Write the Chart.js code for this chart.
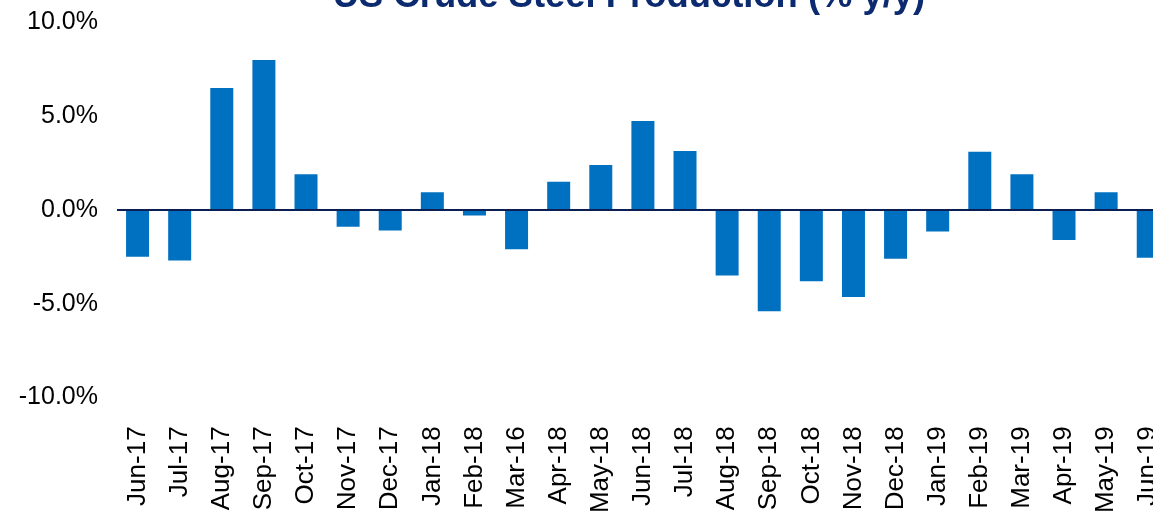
<!DOCTYPE html>
<html>
<head>
<meta charset="utf-8">
<script src="https://cdn.jsdelivr.net/npm/chart.js@4/dist/chart.umd.min.js"></script>
<style>
  html, body { margin: 0; padding: 0; background: #fff; overflow: hidden; }
  body { width: 1153px; height: 511px; position: relative; }
  #wrap { position: absolute; left: 0; top: -40px; width: 1258px; height: 620px; }
</style>
</head>
<body>
<div id="wrap"><canvas id="steel-chart"></canvas></div>
<script>
const titleText = 'US Crude Steel Production (% y/y)';

const months = [
  'Jun-17', 'Jul-17', 'Aug-17', 'Sep-17', 'Oct-17', 'Nov-17', 'Dec-17',
  'Jan-18', 'Feb-18', 'Mar-16', 'Apr-18', 'May-18', 'Jun-18', 'Jul-18',
  'Aug-18', 'Sep-18', 'Oct-18', 'Nov-18', 'Dec-18',
  'Jan-19', 'Feb-19', 'Mar-19', 'Apr-19', 'May-19', 'Jun-19'
];

// % y/y
const yoy = [
  -2.5, -2.7, 6.5, 8.0, 1.9, -0.9, -1.1,
  0.95, -0.3, -2.1, 1.5, 2.4, 4.75, 3.15,
  -3.5, -5.4, -3.8, -4.65, -2.6,
  -1.15, 3.1, 1.9, -1.6, 0.95, -2.55
];

const yTicks = [-10, -5, 0, 5, 10];

const font = 'Liberation Sans, Arial, sans-serif';

new Chart(document.getElementById('steel-chart'), {
  type: 'bar',
  data: {
    labels: months,
    datasets: [{
      data: yoy,
      backgroundColor: '#0070c0',
      borderWidth: 0,
      categoryPercentage: 1,
      barPercentage: 0.546
    }]
  },
  options: {
    responsive: true,
    maintainAspectRatio: false,
    animation: false,
    layout: { padding: 0 },
    plugins: {
      legend: { display: false },
      tooltip: { enabled: false },
      title: {
        display: true,
        text: titleText,
        color: '#0b2a6f',
        font: { family: font, size: 36.4, weight: 'bold' },
        padding: { top: 15.4, bottom: 3.4 }
      }
    },
    scales: {
      x: {
        grid: { display: false, drawTicks: false },
        border: { display: false },
        ticks: {
          autoSkip: false,
          minRotation: 90,
          maxRotation: 90,
          padding: 29,
          color: '#000',
          font: { family: font, size: 26 }
        },
        afterFit(scale) { scale.height = 182.6; }
      },
      y: {
        min: -10,
        max: 10,
        afterBuildTicks(scale) {
          scale.ticks = yTicks.map(v => ({ value: v }));
        },
        grid: {
          z: 1,
          drawTicks: false,
          lineWidth: 2,
          color: ctx => ctx.tick && ctx.tick.value === 0 ? '#0b1f55' : 'rgba(0,0,0,0)'
        },
        border: { display: false },
        ticks: {
          padding: 18.5,
          color: '#000',
          font: { family: font, size: 25 },
          callback: v => v.toFixed(1) + '%'
        },
        afterFit(scale) { scale.width = 116.5; }
      },
      // empty right-hand box so the title centres where the original one does
      spacer: {
        type: 'linear',
        position: 'right',
        grid: { display: false, drawTicks: false },
        border: { display: false },
        ticks: { display: false },
        afterFit(scale) { scale.width = 88.7; }
      }
    }
  }
});
</script>
</body>
</html>
